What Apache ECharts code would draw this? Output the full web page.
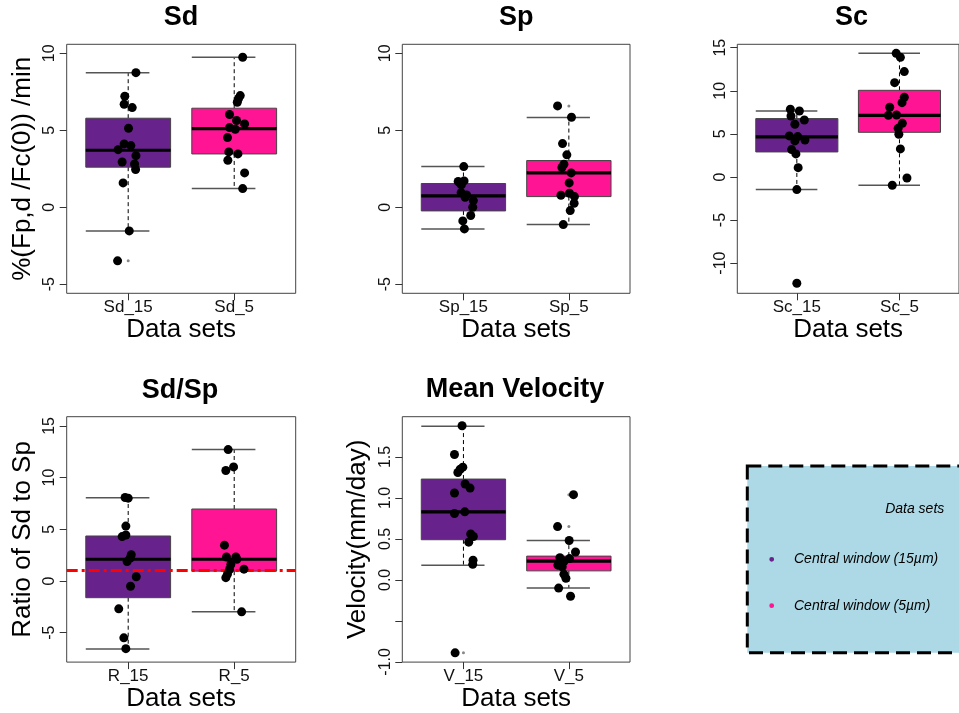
<!DOCTYPE html>
<html><head><meta charset="utf-8">
<script src="https://cdn.jsdelivr.net/npm/echarts@6/dist/echarts.min.js"></script>
<style>html,body{margin:0;padding:0;background:#fff}#c{width:959px;height:713px}</style>
</head><body><div id="c"></div>
<script>
// ---------------- data ----------------
const panelTitles = ['Sd', 'Sp', 'Sc', 'Sd/Sp', 'Mean Velocity'];
const yAxisTitles = ['%(Fp,d /Fc(0)) /min', '', '', 'Ratio of Sd to Sp', 'Velocity(mm/day)'];
const xAxisTitle = 'Data sets';
const legendTitle = 'Data sets';
const groupNames = ['Central window (15µm)', 'Central window (5µm)'];

const catSd = ['Sd_15', 'Sd_5'];
const catSp = ['Sp_15', 'Sp_5'];
const catSc = ['Sc_15', 'Sc_5'];
const catR  = ['R_15', 'R_5'];
const catV  = ['V_15', 'V_5'];

// box statistics: [lower whisker, Q1, median, Q3, upper whisker]
const boxSd15 = [-1.54, 2.60, 3.70, 5.78, 8.74];
const boxSd5  = [1.21, 3.46, 5.11, 6.43, 9.74];
const boxSp15 = [-1.41, -0.24, 0.74, 1.54, 2.64];
const boxSp5  = [-1.13, 0.69, 2.23, 3.03, 5.82];
const boxSc15 = [-1.47, 2.90, 4.64, 6.77, 7.65];
const boxSc5  = [-0.97, 5.18, 7.15, 10.05, 14.34];
const boxR15  = [-6.58, -1.62, 2.10, 4.35, 8.04];
const boxR5   = [-2.99, 0.95, 2.10, 6.96, 12.71];
const boxV15  = [0.18, 0.49, 0.83, 1.23, 1.875];
const boxV5   = [-0.10, 0.11, 0.23, 0.29, 0.48];

// boxplot outliers
const outSd15 = [-3.48]; const outSd5 = [];
const outSp15 = [];      const outSp5 = [6.58];
const outSc15 = [-12.33]; const outSc5 = [];
const outR15 = [];       const outR5 = [];
const outV15 = [-0.89];  const outV5 = [0.65, 1.04, -0.20];

// individual (jittered) observations: values and horizontal jitter
const valSd15 = [8.74, 7.21, 6.69, 6.47, 5.13, 4.11, 4.00, 3.74, 3.35, 2.94, 2.81, 2.45, 1.58, -1.54, -3.48];
const jitSd15 = [0.073, -0.032, -0.038, 0.038, 0.003, -0.038, 0.025, -0.095, 0.073, -0.057, 0.060, 0.070, -0.048, 0.010, -0.100];
const valSd5  = [9.74, 7.25, 7.06, 6.82, 6.02, 5.63, 5.41, 5.17, 5.06, 4.52, 3.59, 3.46, 3.05, 2.23, 1.21];
const jitSd5  = [0.080, 0.057, 0.041, 0.029, -0.044, 0.022, 0.098, -0.044, 0.010, -0.063, -0.051, 0.035, -0.060, 0.098, 0.080];

const valSp15 = [2.64, 1.71, 1.67, 1.56, 1.45, 0.95, 0.80, 0.65, 0.43, 0.00, -0.54, -0.89, -1.41];
const jitSp15 = [0.003, 0.006, -0.050, -0.031, -0.020, -0.022, 0.030, 0.016, 0.094, 0.088, 0.069, -0.006, 0.009];
const valSp5  = [6.58, 5.84, 4.13, 3.40, 2.79, 2.58, 2.23, 1.58, 0.91, 0.78, 0.69, 0.26, -0.22, -1.13];
const jitSp5  = [-0.107, 0.025, -0.060, -0.019, -0.047, -0.066, 0.022, 0.003, 0.006, -0.075, 0.053, 0.050, 0.013, -0.053];

const valSc15 = [7.85, 7.65, 7.07, 6.61, 6.11, 4.76, 4.68, 4.18, 4.29, 3.17, 2.67, 1.08, -1.47, -12.33];
const jitSc15 = [-0.063, 0.025, -0.057, 0.073, -0.019, -0.073, 0.009, -0.019, 0.079, -0.051, -0.009, 0.013, 0.000, 0.000];
const valSc5  = [14.34, 13.88, 12.22, 10.94, 9.24, 8.62, 8.08, 7.15, 7.19, 6.22, 5.64, 4.95, 3.25, -0.12, -0.97];
const jitSc5  = [-0.032, 0.009, 0.047, -0.047, 0.047, 0.025, -0.095, -0.108, -0.028, 0.028, -0.013, -0.006, 0.009, 0.073, -0.070];

const valR15 = [8.07, 8.01, 5.31, 4.29, 4.45, 2.54, 2.22, 1.87, 0.41, -0.51, -2.70, -5.50, -6.55];
const jitR15 = [-0.029, 0.000, -0.022, -0.057, -0.022, 0.029, 0.019, -0.010, 0.076, 0.022, -0.089, -0.041, -0.022];
const valR5  = [12.71, 10.68, 11.03, 3.46, 2.32, 2.32, 2.10, 1.59, 1.11, 1.14, 0.67, 0.32, -2.99];
const jitR5  = [-0.057, -0.079, -0.006, -0.092, -0.073, 0.016, 0.025, -0.032, -0.044, 0.092, -0.063, -0.079, 0.070];

const valV15 = [1.88, 1.53, 1.375, 1.35, 1.31, 1.17, 1.12, 1.06, 0.81, 0.83, 0.56, 0.53, 0.46, 0.24, 0.19, -0.89];
const jitV15 = [-0.013, -0.085, -0.006, -0.031, -0.053, 0.016, 0.063, -0.085, -0.085, 0.013, 0.069, 0.094, 0.050, 0.091, 0.088, -0.079];
const valV5  = [1.04, 0.65, 0.48, 0.34, 0.27, 0.26, 0.23, 0.18, 0.16, 0.07, 0.02, -0.10, -0.20];
const jitV5  = [0.044, -0.107, 0.003, 0.063, -0.085, 0.006, -0.044, -0.104, -0.063, -0.047, -0.028, -0.097, 0.016];

// reference line (ratio = 1)
const refLineR = 1;

// y-axis ranges and ticks
const yRangeSd = [-5.59, 10.58]; const ticksSd = [-5, 0, 5, 10];
const yRangeSp = [-5.59, 10.58]; const ticksSp = [-5, 0, 5, 10];
const yRangeSc = [-13.5, 15.39]; const ticksSc = [-10, -5, 0, 5, 10, 15];
const yRangeR  = [-7.85, 15.89]; const ticksR  = [-5, 0, 5, 10, 15];
const yRangeV  = [-1.003, 1.991]; const ticksV = [-1, -0.5, 0, 0.5, 1, 1.5];
const tickLabelsV = ['-1.0', '', '0.0', '0.5', '1.0', '1.5'];

const groupColors = ['#68228B', '#FF1493'];

// ---------------- layout / build ----------------
const FONT = '"Liberation Sans", Arial, Helvetica, sans-serif';
const HALF = 0.4, STAPLE_R = 0.2;

const panels = [
  {cats: catSd, boxes: [boxSd15, boxSd5], outs: [outSd15, outSd5], vals: [valSd15, valSd5], jits: [jitSd15, jitSd5], yr: yRangeSd, ticks: ticksSd,
   grid: {left: 66.7, top: 44.3, width: 229, height: 249}},
  {cats: catSp, boxes: [boxSp15, boxSp5], outs: [outSp15, outSp5], vals: [valSp15, valSp5], jits: [jitSp15, jitSp5], yr: yRangeSp, ticks: ticksSp,
   grid: {left: 402.3, top: 44.3, width: 227.7, height: 249}},
  {cats: catSc, boxes: [boxSc15, boxSc5], outs: [outSc15, outSc5], vals: [valSc15, valSc5], jits: [jitSc15, jitSc5], yr: yRangeSc, ticks: ticksSc,
   grid: {left: 737.3, top: 44.3, width: 229, height: 249}},
  {cats: catR, boxes: [boxR15, boxR5], outs: [outR15, outR5], vals: [valR15, valR5], jits: [jitR15, jitR5], yr: yRangeR, ticks: ticksR,
   grid: {left: 66.7, top: 416.7, width: 229, height: 248.3}, ref: refLineR},
  {cats: catV, boxes: [boxV15, boxV5], outs: [outV15, outV5], vals: [valV15, valV5], jits: [jitV15, jitV5], yr: yRangeV, ticks: ticksV,
   grid: {left: 402.3, top: 416.7, width: 227.7, height: 247.6}, tickLabels: tickLabelsV}
];

function renderBox(params, api) {
  const x = api.value(0);
  const lo = api.value(1), q1 = api.value(2), md = api.value(3), q3 = api.value(4), hi = api.value(5);
  const c = (xx, yy) => api.coord([xx, yy]);
  const tl = c(x - HALF, q3), br = c(x + HALF, q1);
  const m0 = c(x - HALF, md), m1 = c(x + HALF, md);
  const w1a = c(x, q3), w1b = c(x, hi), w2a = c(x, q1), w2b = c(x, lo);
  const s1a = c(x - HALF, hi), s1b = c(x + STAPLE_R, hi);
  const s2a = c(x - HALF, lo), s2b = c(x + STAPLE_R, lo);
  const ln = (p, q, style) => ({type: 'line', shape: {x1: p[0], y1: p[1], x2: q[0], y2: q[1]}, style});
  const dash = {stroke: '#000', lineWidth: 1, lineDash: [4, 3]};
  const staple = {stroke: '#555', lineWidth: 1.5};
  return {type: 'group', children: [
    ln(w1a, w1b, dash), ln(w2a, w2b, dash),
    ln(s1a, s1b, staple), ln(s2a, s2b, staple),
    {type: 'rect', shape: {x: tl[0], y: tl[1], width: br[0] - tl[0], height: br[1] - tl[1]},
     style: {fill: groupColors[params.dataIndex], stroke: '#444', lineWidth: 1}},
    ln(m0, m1, {stroke: '#000', lineWidth: 3.2})
  ]};
}

const grids = [], xAxes = [], yAxes = [], series = [];
panels.forEach((p, i) => {
  grids.push(Object.assign({show: true, borderColor: '#444', borderWidth: 1, backgroundColor: 'transparent'}, p.grid));
  xAxes.push({
    type: 'value', gridIndex: i, min: 0.42, max: 2.58, position: 'bottom',
    name: xAxisTitle, nameLocation: 'middle', nameGap: 19,
    nameTextStyle: {fontSize: 26, color: '#000', fontFamily: FONT},
    axisLine: {show: false, onZero: false}, splitLine: {show: false},
    axisTick: {show: true, customValues: [1, 2], length: 7, lineStyle: {color: '#333'}},
    axisLabel: {customValues: [1, 2], margin: 6, fontSize: 17, color: '#111', fontFamily: FONT,
      formatter: v => p.cats[Math.round(v) - 1]}
  });
  yAxes.push({
    type: 'value', gridIndex: i, min: p.yr[0], max: p.yr[1], position: 'left',
    name: yAxisTitles[i], nameLocation: 'middle', nameGap: 31,
    nameTextStyle: {fontSize: 26, color: '#000', fontFamily: FONT},
    axisLine: {show: false, onZero: false}, splitLine: {show: false},
    axisTick: {show: true, customValues: p.ticks, length: 7, lineStyle: {color: '#333'}},
    axisLabel: {customValues: p.ticks, rotate: 90, margin: 9, fontSize: 16, color: '#111', fontFamily: FONT,
      formatter: v => {
        if (p.tickLabels) { const k = p.ticks.findIndex(t => Math.abs(t - v) < 1e-9); return k >= 0 ? p.tickLabels[k] : ''; }
        return String(v);
      }}
  });
  const boxSeries = {
    type: 'custom', xAxisIndex: i, yAxisIndex: i, z: 2,
    renderItem: renderBox,
    encode: {x: 0, y: [1, 2, 3, 4, 5]},
    data: p.boxes.map((b, g) => [g + 1].concat(b)),
    silent: true
  };
  if (p.ref !== undefined) {
    boxSeries.markLine = {
      silent: true, symbol: 'none', z: 3, label: {show: false},
      lineStyle: {color: '#FF0000', width: 3, type: [11, 4, 3, 4]},
      data: [{yAxis: p.ref}]
    };
  }
  series.push(boxSeries);
  const outData = [];
  p.outs.forEach((arr, g) => arr.forEach(v => outData.push([g + 1, v])));
  series.push({type: 'scatter', xAxisIndex: i, yAxisIndex: i, z: 3, symbolSize: 3, silent: true,
    itemStyle: {color: '#888', opacity: 1}, data: outData});
  const ptData = [];
  p.vals.forEach((arr, g) => arr.forEach((v, k) => ptData.push([g + 1 + p.jits[g][k], v])));
  series.push({type: 'scatter', xAxisIndex: i, yAxisIndex: i, z: 4, symbolSize: 9, silent: true,
    itemStyle: {color: '#000', opacity: 1}, data: ptData});
});

const titlePos = [[181, 17.8], [516.2, 17.8], [851.5, 17.8], [180, 390.5], [515, 390]];
const graphics = panelTitles.map((t, i) => ({
  type: 'text', x: titlePos[i][0], y: titlePos[i][1], silent: true,
  style: {text: t, align: 'center', verticalAlign: 'middle', fontSize: 27, fontWeight: 'bold', fontFamily: FONT, fill: '#000'}
}));
// legend box
graphics.push({type: 'rect', shape: {x: 747.3, y: 466, width: 240, height: 186.7}, silent: true, z: 0,
  style: {fill: '#ADD8E6', stroke: '#000', lineWidth: 3, lineDash: [14, 7]}});
graphics.push({type: 'text', x: 914.7, y: 509.3, silent: true, z: 1,
  style: {text: legendTitle, align: 'center', verticalAlign: 'middle', fontSize: 14, fontStyle: 'italic', fontFamily: FONT, fill: '#000'}});
groupNames.forEach((n, g) => {
  const y = 559.3 + g * 46.4;
  graphics.push({type: 'circle', shape: {cx: 771.7, cy: y, r: 2.4}, silent: true, z: 1, style: {fill: groupColors[g]}});
  graphics.push({type: 'text', x: 794, y: y, silent: true, z: 1,
    style: {text: n, align: 'left', verticalAlign: 'middle', fontSize: 14, fontStyle: 'italic', fontFamily: FONT, fill: '#000'}});
});

const chart = echarts.init(document.getElementById('c'), null, {renderer: 'canvas'});
chart.setOption({
  animation: false,
  backgroundColor: '#fff',
  grid: grids, xAxis: xAxes, yAxis: yAxes, series: series,
  graphic: graphics
});
</script></body></html>
